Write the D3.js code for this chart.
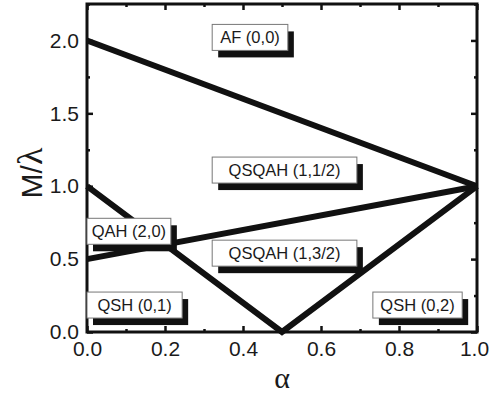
<!DOCTYPE html>
<html>
<head>
<meta charset="utf-8">
<script src="https://cdn.jsdelivr.net/npm/d3@7"></script>
<style>
  body { margin: 0; background: #fff; }
  svg { display: block; }
</style>
</head>
<body>
<div class="chart"></div>
<script>
// phase boundaries, points are [alpha, M/lambda]
const lineAF = [[0, 2.0], [1.0, 1.0]]
const lineQAH = [[0, 0.5], [1.0, 1.0]]
const lineQSH = [[0, 1.0], [0.5, 0.0], [1.0, 1.0]]

// region names and where their boxes sit (left, right, top in data units)
const regionNames = ['AF (0,0)', 'QSQAH (1,1/2)', 'QAH (2,0)', 'QSQAH (1,3/2)', 'QSH (0,1)', 'QSH (0,2)']
const boxLeft  = [0.321, 0.321, 0.0,  0.321, 0.0,   0.733]
const boxRight = [0.515, 0.692, 0.215, 0.692, 0.244, 0.962]
const boxTop   = [2.11, 1.20, 0.78, 0.63, 0.274, 0.274]

const xTicks = [0, 0.2, 0.4, 0.6, 0.8, 1.0]
const xMinor = [0.1, 0.3, 0.5, 0.7, 0.9]
const yTicks = [0, 0.5, 1.0, 1.5, 2.0]
const yMinor = [0.25, 0.75, 1.25, 1.75, 2.25]

const margin = ({top: 4, right: 13, bottom: 63, left: 87})
const width = 490 - margin.left - margin.right
const height = 395 - margin.top - margin.bottom

const svg = d3.select('.chart').append('svg')
    .attr('width', 490)
    .attr('height', 395)
  .append('g')
    .attr('transform', `translate(${margin.left},${margin.top})`)

let x = d3.scaleLinear().domain([0, 1.0]).range([0, width])
let y = d3.scaleLinear().domain([0, 2.25]).range([height, 0])

const fmt = d3.format('.1f')
const tickFont = '"Liberation Sans", Arial, sans-serif'

// inward ticks on all four sides
function styleAxis(g) {
    g.select('.domain').remove()
    g.selectAll('.tick line').attr('stroke', '#111').attr('stroke-width', 2.5)
    g.selectAll('text')
        .attr('font-family', tickFont)
        .attr('font-size', 21)
        .attr('fill', '#1a1a1a')
}

const xAxisG = svg.append('g')
    .attr('transform', `translate(0,${height})`)
    .call(d3.axisBottom(x).tickValues(xTicks).tickFormat(fmt).tickSizeInner(-6).tickSizeOuter(0).tickPadding(9))
    .call(styleAxis)
// keep the last label inside the window
xAxisG.selectAll('.tick text').filter(d => d === 1.0).attr('dx', -3)

svg.append('g')
    .attr('transform', `translate(0,${height})`)
    .call(d3.axisBottom(x).tickValues(xMinor).tickFormat('').tickSizeInner(-3).tickSizeOuter(0))
    .call(styleAxis)
svg.append('g')
    .call(d3.axisTop(x).tickValues(xTicks).tickFormat('').tickSizeInner(-6).tickSizeOuter(0))
    .call(styleAxis)
svg.append('g')
    .call(d3.axisTop(x).tickValues(xMinor).tickFormat('').tickSizeInner(-3).tickSizeOuter(0))
    .call(styleAxis)

svg.append('g')
    .call(d3.axisLeft(y).tickValues(yTicks).tickFormat(fmt).tickSizeInner(-6).tickSizeOuter(0).tickPadding(8))
    .call(styleAxis)
svg.append('g')
    .call(d3.axisLeft(y).tickValues(yMinor).tickFormat('').tickSizeInner(-3).tickSizeOuter(0))
    .call(styleAxis)
svg.append('g')
    .attr('transform', `translate(${width},0)`)
    .call(d3.axisRight(y).tickValues(yTicks).tickFormat('').tickSizeInner(-6).tickSizeOuter(0))
    .call(styleAxis)
svg.append('g')
    .attr('transform', `translate(${width},0)`)
    .call(d3.axisRight(y).tickValues(yMinor).tickFormat('').tickSizeInner(-3).tickSizeOuter(0))
    .call(styleAxis)

// frame
svg.append('rect')
    .attr('width', width)
    .attr('height', height)
    .attr('fill', 'none')
    .attr('stroke', '#111')
    .attr('stroke-width', 3)

// boundary lines
const line = d3.line()
    .x(d => x(d[0]))
    .y(d => y(d[1]))

svg.selectAll('.boundary')
    .data([lineAF, lineQAH, lineQSH])
    .join('path')
    .attr('class', 'boundary')
    .attr('d', line)
    .attr('fill', 'none')
    .attr('stroke', '#111')
    .attr('stroke-width', 6)
    .attr('stroke-linejoin', 'miter')

// region labels with drop shadow
const boxH = 26
const labels = svg.selectAll('.region')
    .data(regionNames)
    .join('g')
    .attr('class', 'region')
    .attr('transform', (d, i) => `translate(${x(boxLeft[i])},${y(boxTop[i])})`)

labels.append('rect')
    .attr('x', 6)
    .attr('y', 7)
    .attr('width', (d, i) => x(boxRight[i]) - x(boxLeft[i]))
    .attr('height', boxH)
    .attr('fill', '#111')

labels.append('rect')
    .attr('width', (d, i) => x(boxRight[i]) - x(boxLeft[i]))
    .attr('height', boxH)
    .attr('fill', '#fff')
    .attr('stroke', '#777')
    .attr('stroke-width', 1)

labels.append('text')
    .attr('x', (d, i) => (x(boxRight[i]) - x(boxLeft[i])) / 2)
    .attr('y', boxH / 2 + 6)
    .attr('text-anchor', 'middle')
    .attr('font-family', tickFont)
    .attr('font-size', 16.5)
    .attr('fill', '#1a1a1a')
    .text(d => d)

// axis titles
const yTitle = svg.append('text')
    .attr('transform', `translate(${-45},${height / 2 + 5}) rotate(-90)`)
    .attr('text-anchor', 'middle')
    .attr('font-family', tickFont)
    .attr('font-size', 30)
    .attr('fill', '#1a1a1a')
yTitle.append('tspan').text('M/')
yTitle.append('tspan')
    .attr('font-family', '"Liberation Serif", "Times New Roman", serif')
    .attr('font-size', 36)
    .text('λ')

svg.append('text')
    .attr('x', width / 2)
    .attr('y', height + 56)
    .attr('text-anchor', 'middle')
    .attr('font-family', '"Liberation Serif", "Times New Roman", serif')
    .attr('font-size', 30)
    .attr('fill', '#1a1a1a')
    .text('α')
</script>
</body>
</html>
